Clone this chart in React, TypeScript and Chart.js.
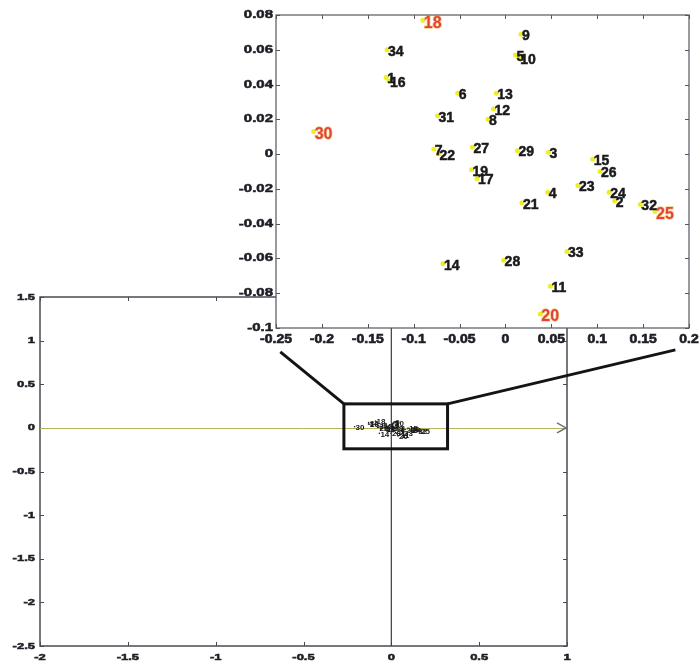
import React, { useEffect, useRef } from "react";
import { Chart, registerables } from "chart.js";

Chart.register(...registerables);

// ---------- data ----------
const POINT_LABELS = [
  "1", "2", "3", "4", "5", "6", "7", "8", "9", "10",
  "11", "12", "13", "14", "15", "16", "17", "18", "19", "20",
  "21", "22", "23", "24", "25", "26", "27", "28", "29", "30",
  "31", "32", "33", "34",
];
const X_VALUES = [
  -0.130, 0.119, 0.047, 0.046, 0.011, -0.052, -0.078, -0.019, 0.017, 0.015,
  0.049, -0.013, -0.010, -0.068, 0.095, -0.127, -0.031, -0.090, -0.037, 0.038,
  0.018, -0.073, 0.079, 0.113, 0.163, 0.103, -0.036, -0.002, 0.013, -0.209,
  -0.074, 0.147, 0.067, -0.129,
];
const Y_VALUES = [
  0.044, -0.027, 0.001, -0.022, 0.057, 0.035, 0.003, 0.020, 0.069, 0.055,
  -0.076, 0.026, 0.035, -0.063, -0.003, 0.042, -0.014, 0.077, -0.009, -0.092,
  -0.028, 0.000, -0.018, -0.022, -0.033, -0.010, 0.004, -0.061, 0.002, 0.013,
  0.022, -0.029, -0.056, 0.060,
];
const HIGHLIGHTED = ["18", "20", "25", "30"];

const MAIN_X_TICKS = [-2, -1.5, -1, -0.5, 0, 0.5, 1];
const MAIN_Y_TICKS = [-2.5, -2, -1.5, -1, -0.5, 0, 0.5, 1, 1.5];
const INSET_X_TICKS = [-0.25, -0.2, -0.15, -0.1, -0.05, 0, 0.05, 0.1, 0.15, 0.2];
const INSET_Y_TICKS = [-0.1, -0.08, -0.06, -0.04, -0.02, 0, 0.02, 0.04, 0.06, 0.08];

// zoom box drawn on the main axes, and the ends of its two connector lines (main data units)
const ZOOM_BOX_X = [-0.27, 0.32];
const ZOOM_BOX_Y = [-0.24, 0.275];
const CONNECTOR_LEFT_END = [-0.632, 0.871];
const CONNECTOR_RIGHT_END = [1.617, 0.894];

const FONT = '"Liberation Sans", Arial, sans-serif';

function drawScaledText(
  ctx: CanvasRenderingContext2D, text: string, x: number, y: number,
  align: CanvasTextAlign, font: string, sy: number, color: string
) {
  ctx.save();
  ctx.translate(x, y);
  ctx.scale(1, sy);
  ctx.font = font;
  ctx.textAlign = align;
  ctx.textBaseline = "middle";
  ctx.fillStyle = color;
  ctx.strokeStyle = color;
  ctx.lineWidth = 0.7;
  ctx.fillText(text, 0, 0);
  ctx.strokeText(text, 0, 0);
  ctx.restore();
}

function makeFramePlugin(id: string, o: any) {
  return {
    id,
    afterDatasetsDraw(chart: any) {
      const { ctx, chartArea: a, scales } = chart;
      const x = scales.x, y = scales.y;
      ctx.save();
      ctx.strokeStyle = o.frameColor;
      ctx.lineWidth = o.frameWidth;
      ctx.strokeRect(a.left, a.top, a.right - a.left, a.bottom - a.top);
      ctx.lineWidth = 1;
      ctx.beginPath();
      x.ticks.forEach((t: any) => {
        const px = Math.round(x.getPixelForValue(t.value)) + 0.5;
        ctx.moveTo(px, a.bottom); ctx.lineTo(px, a.bottom - o.tickLen);
        ctx.moveTo(px, a.top); ctx.lineTo(px, a.top + o.tickLen);
      });
      y.ticks.forEach((t: any) => {
        const py = Math.round(y.getPixelForValue(t.value)) + 0.5;
        ctx.moveTo(a.left, py); ctx.lineTo(a.left + o.tickLen, py);
        ctx.moveTo(a.right, py); ctx.lineTo(a.right - o.tickLen, py);
      });
      ctx.stroke();
      ctx.restore();
      x.ticks.forEach((t: any) => {
        drawScaledText(ctx, String(t.value), x.getPixelForValue(t.value), a.bottom + o.xLabelOffset,
          "center", o.xFont, o.xScaleY, o.labelColor);
      });
      y.ticks.forEach((t: any) => {
        drawScaledText(ctx, String(t.value), a.left - o.yLabelGap, y.getPixelForValue(t.value),
          "right", o.yFont, o.yScaleY, o.labelColor);
      });
    },
  };
}

const mainDecorPlugin = {
  id: "mainDecor",
  afterDatasetsDraw(chart: any) {
    const { ctx, chartArea: a, scales } = chart;
    const x = scales.x, y = scales.y;
    const x0 = x.getPixelForValue(0), y0 = y.getPixelForValue(0);
    ctx.save();
    // vertical axis line at x = 0
    ctx.strokeStyle = "#3c3c4c";
    ctx.lineWidth = 1.2;
    ctx.beginPath();
    ctx.moveTo(x0, a.top); ctx.lineTo(x0, a.bottom);
    ctx.stroke();
    // horizontal line at y = 0 with arrow
    ctx.strokeStyle = "#b4b45a";
    ctx.lineWidth = 1;
    ctx.beginPath();
    ctx.moveTo(a.left, Math.round(y0) + 0.5); ctx.lineTo(a.right - 2, Math.round(y0) + 0.5);
    ctx.stroke();
    ctx.strokeStyle = "#707078";
    ctx.lineWidth = 1.5;
    ctx.beginPath();
    ctx.moveTo(a.right - 10, y0 - 5); ctx.lineTo(a.right - 1, y0); ctx.lineTo(a.right - 10, y0 + 5);
    ctx.stroke();
    // tiny point labels
    ctx.font = "bold 8px " + FONT;
    ctx.fillStyle = "#1a1a1a";
    ctx.textAlign = "left";
    ctx.textBaseline = "middle";
    POINT_LABELS.forEach((lab, i) => {
      ctx.fillText(lab, x.getPixelForValue(X_VALUES[i]) + 1, y.getPixelForValue(Y_VALUES[i]) + 1);
    });
    // zoom box
    const bl = x.getPixelForValue(ZOOM_BOX_X[0]), br = x.getPixelForValue(ZOOM_BOX_X[1]);
    const bt = y.getPixelForValue(ZOOM_BOX_Y[1]), bb = y.getPixelForValue(ZOOM_BOX_Y[0]);
    ctx.strokeStyle = "#141414";
    ctx.lineWidth = 3;
    ctx.strokeRect(bl, bt, br - bl, bb - bt);
    ctx.beginPath();
    ctx.moveTo(bl, bt);
    ctx.lineTo(x.getPixelForValue(CONNECTOR_LEFT_END[0]), y.getPixelForValue(CONNECTOR_LEFT_END[1]));
    ctx.moveTo(br, bt);
    ctx.lineTo(x.getPixelForValue(CONNECTOR_RIGHT_END[0]), y.getPixelForValue(CONNECTOR_RIGHT_END[1]));
    ctx.stroke();
    ctx.restore();
  },
};

const insetBgPlugin = {
  id: "insetBg",
  beforeDatasetsDraw(chart: any) {
    const { ctx, chartArea: a } = chart;
    ctx.save();
    ctx.fillStyle = "#ffffff";
    ctx.fillRect(a.left, a.top, a.right - a.left, a.bottom - a.top);
    ctx.restore();
  },
};

const insetLabelPlugin = {
  id: "insetLabels",
  afterDatasetsDraw(chart: any) {
    const { ctx, scales } = chart;
    const x = scales.x, y = scales.y;
    ctx.save();
    ctx.textAlign = "left";
    ctx.textBaseline = "middle";
    POINT_LABELS.forEach((lab, i) => {
      const px = x.getPixelForValue(X_VALUES[i]) + 1;
      const py = y.getPixelForValue(Y_VALUES[i]) + 2;
      if (HIGHLIGHTED.includes(lab)) {
        ctx.font = "bold 16px " + FONT;
        ctx.lineWidth = 1.5;
        ctx.strokeStyle = "rgba(240,190,90,0.7)";
        ctx.strokeText(lab, px, py + 1);
        ctx.fillStyle = "#e2443a";
        ctx.fillText(lab, px, py + 1);
      } else {
        ctx.font = "bold 14px " + FONT;
        ctx.fillStyle = "#1a1a1a";
        ctx.strokeStyle = "#1a1a1a";
        ctx.lineWidth = 0.5;
        ctx.fillText(lab, px, py);
        ctx.strokeText(lab, px, py);
      }
    });
    ctx.restore();
  },
};

function scaleOpts(min: number, max: number, ticks: number[], size: number, horizontal: boolean) {
  return {
    type: "linear",
    min, max,
    grid: { display: false },
    border: { display: false },
    ticks: { display: false },
    afterBuildTicks: (s: any) => { s.ticks = ticks.map((v) => ({ value: v })); },
    afterFit: (s: any) => { if (horizontal) s.height = size; else s.width = size; },
  };
}

export default function App() {
  const mainRef = useRef<HTMLCanvasElement>(null);
  const insetRef = useRef<HTMLCanvasElement>(null);

  useEffect(() => {
    const pts = X_VALUES.map((v, i) => ({ x: v, y: Y_VALUES[i] }));
    const main = new Chart(mainRef.current as HTMLCanvasElement, {
      type: "scatter",
      data: { datasets: [{ data: pts, pointRadius: 0.8, backgroundColor: "#222", borderWidth: 0 }] },
      options: {
        responsive: false,
        animation: false,
        events: [],
        layout: { padding: { left: 4, top: 297, right: 133, bottom: 0 } },
        plugins: { legend: { display: false }, tooltip: { enabled: false } },
        scales: {
          x: scaleOpts(-2, 1, MAIN_X_TICKS, 15, true),
          y: scaleOpts(-2.5, 1.5, MAIN_Y_TICKS, 36, false),
        },
      } as any,
      plugins: [
        makeFramePlugin("mainFrame", {
          frameColor: "#4a4a55", frameWidth: 1.5, tickLen: 4,
          xFont: "bold 13px " + FONT, xScaleY: 0.75, xLabelOffset: 11,
          yFont: "bold 13px " + FONT, yScaleY: 0.72, yLabelGap: 5,
          labelColor: "#1e1e26",
        }),
        mainDecorPlugin,
      ],
    });

    const inset = new Chart(insetRef.current as HTMLCanvasElement, {
      type: "scatter",
      data: { datasets: [{ data: pts, pointRadius: 2.5, backgroundColor: "#eeee22", borderWidth: 0 }] },
      options: {
        responsive: false,
        animation: false,
        events: [],
        layout: { padding: { left: 236, top: 15, right: 11, bottom: 0 } },
        plugins: { legend: { display: false }, tooltip: { enabled: false } },
        scales: {
          x: scaleOpts(-0.25, 0.2, INSET_X_TICKS, 22, true),
          y: scaleOpts(-0.1, 0.08, INSET_Y_TICKS, 40, false),
        },
      } as any,
      plugins: [
        insetBgPlugin,
        insetLabelPlugin,
        makeFramePlugin("insetFrame", {
          frameColor: "#555560", frameWidth: 1.2, tickLen: 4,
          xFont: "bold 14px " + FONT, xScaleY: 0.85, xLabelOffset: 12,
          yFont: "bold 15px " + FONT, yScaleY: 0.72, yLabelGap: 3,
          labelColor: "#1e1e26",
        }),
      ],
    });

    return () => {
      main.destroy();
      inset.destroy();
    };
  }, []);

  return (
    <div style={{ position: "fixed", left: 0, top: 0, width: 700, height: 661, background: "#fff" }}>
      <canvas ref={mainRef} width={700} height={661}
        style={{ position: "absolute", left: 0, top: 0, width: 700, height: 661 }} />
      <canvas ref={insetRef} width={700} height={350}
        style={{ position: "absolute", left: 0, top: 0, width: 700, height: 350 }} />
    </div>
  );
}
